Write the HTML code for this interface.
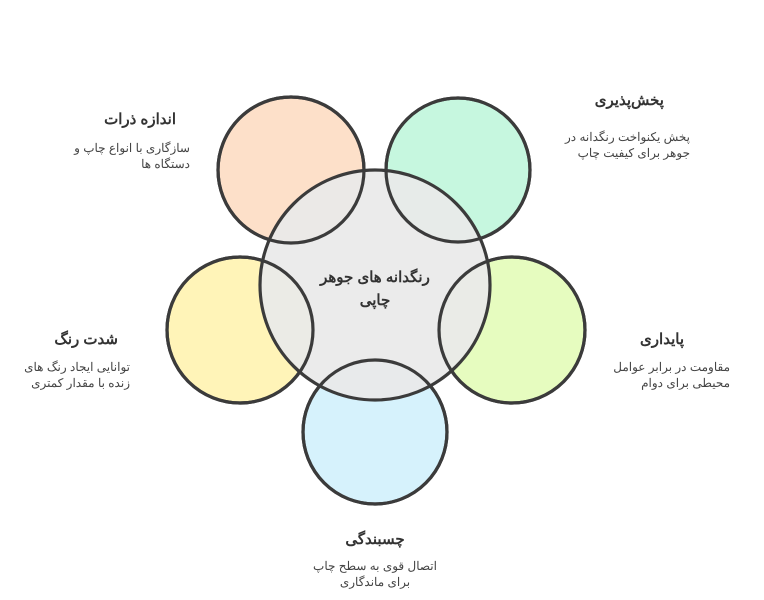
<!DOCTYPE html>
<html><head><meta charset="utf-8"><style>
body{margin:0;width:764px;height:600px;background:#fff;overflow:hidden;position:relative;font-family:"Liberation Sans","Noto Sans CJK SC",sans-serif;color:#333}
.t{position:absolute;direction:rtl;text-align:right;font-weight:bold;font-size:15px;white-space:nowrap}
.d{position:absolute;direction:rtl;text-align:right;font-size:12px;line-height:16px;color:#444;white-space:nowrap}
</style></head><body>
<svg width="764" height="600" style="position:absolute;left:0;top:0">
<g stroke="#3b3b3b" stroke-width="3.2">
<circle cx="291" cy="170" r="73" fill="#fde0c9"/>
<circle cx="458" cy="170" r="72" fill="#c6f7df"/>
<circle cx="240" cy="330" r="73" fill="#fff4b8"/>
<circle cx="512" cy="330" r="73" fill="#e6fcbf"/>
<circle cx="375" cy="432" r="72" fill="#d6f2fc"/>
<circle cx="375" cy="285" r="115" fill="#e9e9e9" fill-opacity="0.93"/>
<circle cx="291" cy="170" r="73" fill="none"/>
<circle cx="458" cy="170" r="72" fill="none"/>
<circle cx="240" cy="330" r="73" fill="none"/>
<circle cx="512" cy="330" r="73" fill="none"/>
<circle cx="375" cy="432" r="72" fill="none"/>
</g>
</svg>
<div class="t" style="right:588px;top:110px">اندازه ذرات</div>
<div class="d" style="right:574px;top:140px">سازگاری با انواع چاپ و<br>دستگاه ها</div>
<div class="t" style="right:100px;top:91px">پخش‌پذیری</div>
<div class="d" style="right:74px;top:129px">پخش یکنواخت رنگدانه در<br>جوهر برای کیفیت چاپ</div>
<div class="t" style="right:646px;top:330px">شدت رنگ</div>
<div class="d" style="right:634px;top:359px">توانایی ایجاد رنگ های<br>زنده با مقدار کمتری</div>
<div class="t" style="right:80px;top:330px">پایداری</div>
<div class="d" style="right:34px;top:359px">مقاومت در برابر عوامل<br>محیطی برای دوام</div>
<div class="t" style="left:0;width:750px;text-align:center;top:530px">چسبندگی</div>
<div class="d" style="left:0;width:750px;text-align:center;top:558px">اتصال قوی به سطح چاپ<br>برای ماندگاری</div>
<div class="t" style="left:0;width:750px;text-align:center;top:266px;line-height:23px">رنگدانه های جوهر<br>چاپی</div>
</body></html>
